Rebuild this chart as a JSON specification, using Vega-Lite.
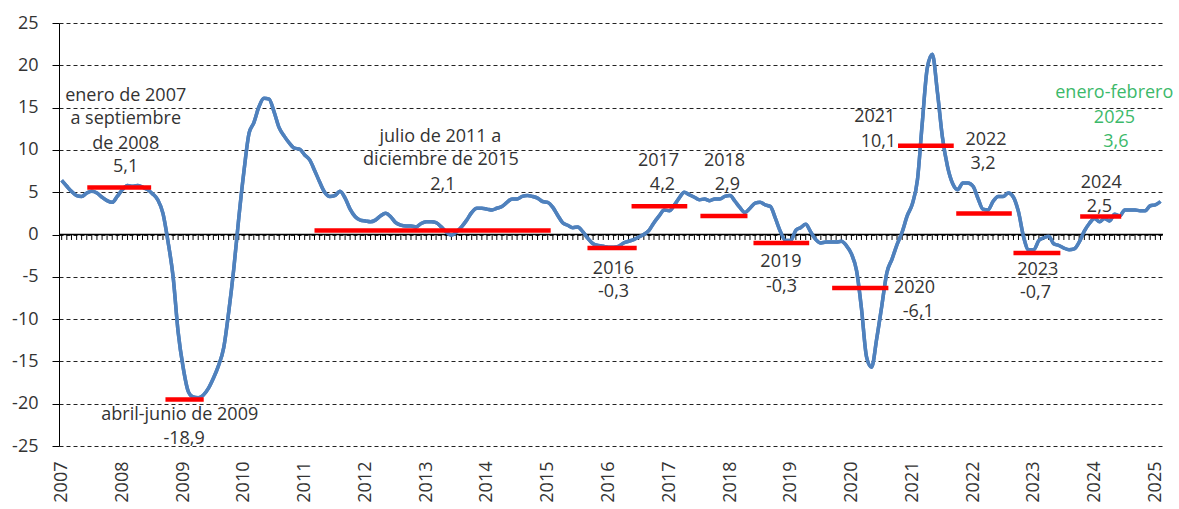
{
  "$schema": "https://vega.github.io/schema/vega-lite/v6.json",
  "width": 1104,
  "height": 423,
  "autosize": {"type": "none"},
  "padding": {"left": 59, "top": 23, "right": 16, "bottom": 63},
  "background": "white",
  "config": {"view": {"stroke": null}, "font": "Open Sans"},
  "datasets": {
    "serie": [
      {"fecha":"2007-01-01","v":6.4},{"fecha":"2007-02-01","v":5.7},{"fecha":"2007-03-01","v":5.1},{"fecha":"2007-04-01","v":4.6},{"fecha":"2007-05-01","v":4.5},{"fecha":"2007-06-01","v":4.9},{"fecha":"2007-07-01","v":5.1},{"fecha":"2007-08-01","v":4.9},{"fecha":"2007-09-01","v":4.4},{"fecha":"2007-10-01","v":4.0},{"fecha":"2007-11-01","v":3.8},{"fecha":"2007-12-01","v":4.5},
      {"fecha":"2008-01-01","v":5.3},{"fecha":"2008-02-01","v":5.8},{"fecha":"2008-03-01","v":5.7},{"fecha":"2008-04-01","v":5.8},{"fecha":"2008-05-01","v":5.6},{"fecha":"2008-06-01","v":5.3},{"fecha":"2008-07-01","v":4.8},{"fecha":"2008-08-01","v":4.1},{"fecha":"2008-09-01","v":2.5},{"fecha":"2008-10-01","v":-0.8},{"fecha":"2008-11-01","v":-5.0},{"fecha":"2008-12-01","v":-11.5},
      {"fecha":"2009-01-01","v":-15.8},{"fecha":"2009-02-01","v":-18.6},{"fecha":"2009-03-01","v":-19.2},{"fecha":"2009-04-01","v":-19.3},{"fecha":"2009-05-01","v":-19.0},{"fecha":"2009-06-01","v":-18.2},{"fecha":"2009-07-01","v":-17.0},{"fecha":"2009-08-01","v":-15.5},{"fecha":"2009-09-01","v":-13.4},{"fecha":"2009-10-01","v":-9.2},{"fecha":"2009-11-01","v":-4.0},{"fecha":"2009-12-01","v":2.0},
      {"fecha":"2010-01-01","v":7.5},{"fecha":"2010-02-01","v":12.0},{"fecha":"2010-03-01","v":13.2},{"fecha":"2010-04-01","v":15.1},{"fecha":"2010-05-01","v":16.1},{"fecha":"2010-06-01","v":16.0},{"fecha":"2010-07-01","v":14.5},{"fecha":"2010-08-01","v":12.6},{"fecha":"2010-09-01","v":11.6},{"fecha":"2010-10-01","v":10.8},{"fecha":"2010-11-01","v":10.2},{"fecha":"2010-12-01","v":10.1},
      {"fecha":"2011-01-01","v":9.4},{"fecha":"2011-02-01","v":8.8},{"fecha":"2011-03-01","v":7.6},{"fecha":"2011-04-01","v":6.2},{"fecha":"2011-05-01","v":5.0},{"fecha":"2011-06-01","v":4.5},{"fecha":"2011-07-01","v":4.6},{"fecha":"2011-08-01","v":5.1},{"fecha":"2011-09-01","v":4.3},{"fecha":"2011-10-01","v":3.0},{"fecha":"2011-11-01","v":2.1},{"fecha":"2011-12-01","v":1.7},
      {"fecha":"2012-01-01","v":1.6},{"fecha":"2012-02-01","v":1.5},{"fecha":"2012-03-01","v":1.7},{"fecha":"2012-04-01","v":2.2},{"fecha":"2012-05-01","v":2.5},{"fecha":"2012-06-01","v":2.1},{"fecha":"2012-07-01","v":1.4},{"fecha":"2012-08-01","v":1.1},{"fecha":"2012-09-01","v":1.0},{"fecha":"2012-10-01","v":1.0},{"fecha":"2012-11-01","v":0.9},{"fecha":"2012-12-01","v":1.3},
      {"fecha":"2013-01-01","v":1.5},{"fecha":"2013-02-01","v":1.5},{"fecha":"2013-03-01","v":1.4},{"fecha":"2013-04-01","v":0.9},{"fecha":"2013-05-01","v":0.3},{"fecha":"2013-06-01","v":-0.1},{"fecha":"2013-07-01","v":0.3},{"fecha":"2013-08-01","v":0.9},{"fecha":"2013-09-01","v":1.7},{"fecha":"2013-10-01","v":2.6},{"fecha":"2013-11-01","v":3.1},{"fecha":"2013-12-01","v":3.1},
      {"fecha":"2014-01-01","v":3.0},{"fecha":"2014-02-01","v":2.9},{"fecha":"2014-03-01","v":3.1},{"fecha":"2014-04-01","v":3.3},{"fecha":"2014-05-01","v":3.8},{"fecha":"2014-06-01","v":4.2},{"fecha":"2014-07-01","v":4.2},{"fecha":"2014-08-01","v":4.5},{"fecha":"2014-09-01","v":4.6},{"fecha":"2014-10-01","v":4.5},{"fecha":"2014-11-01","v":4.3},{"fecha":"2014-12-01","v":3.9},
      {"fecha":"2015-01-01","v":3.8},{"fecha":"2015-02-01","v":3.2},{"fecha":"2015-03-01","v":2.3},{"fecha":"2015-04-01","v":1.4},{"fecha":"2015-05-01","v":1.1},{"fecha":"2015-06-01","v":0.8},{"fecha":"2015-07-01","v":0.9},{"fecha":"2015-08-01","v":0.3},{"fecha":"2015-09-01","v":-0.5},{"fecha":"2015-10-01","v":-1.1},{"fecha":"2015-11-01","v":-1.3},{"fecha":"2015-12-01","v":-1.4},
      {"fecha":"2016-01-01","v":-1.5},{"fecha":"2016-02-01","v":-1.5},{"fecha":"2016-03-01","v":-1.4},{"fecha":"2016-04-01","v":-1.0},{"fecha":"2016-05-01","v":-0.8},{"fecha":"2016-06-01","v":-0.6},{"fecha":"2016-07-01","v":-0.3},{"fecha":"2016-08-01","v":0.0},{"fecha":"2016-09-01","v":0.5},{"fecha":"2016-10-01","v":1.4},{"fecha":"2016-11-01","v":2.2},{"fecha":"2016-12-01","v":2.9},
      {"fecha":"2017-01-01","v":2.8},{"fecha":"2017-02-01","v":3.5},{"fecha":"2017-03-01","v":4.3},{"fecha":"2017-04-01","v":5.0},{"fecha":"2017-05-01","v":4.7},{"fecha":"2017-06-01","v":4.4},{"fecha":"2017-07-01","v":4.1},{"fecha":"2017-08-01","v":4.2},{"fecha":"2017-09-01","v":4.0},{"fecha":"2017-10-01","v":4.2},{"fecha":"2017-11-01","v":4.2},{"fecha":"2017-12-01","v":4.5},
      {"fecha":"2018-01-01","v":4.6},{"fecha":"2018-02-01","v":3.9},{"fecha":"2018-03-01","v":3.2},{"fecha":"2018-04-01","v":2.6},{"fecha":"2018-05-01","v":3.1},{"fecha":"2018-06-01","v":3.7},{"fecha":"2018-07-01","v":3.8},{"fecha":"2018-08-01","v":3.5},{"fecha":"2018-09-01","v":3.3},{"fecha":"2018-10-01","v":1.9},{"fecha":"2018-11-01","v":0.3},{"fecha":"2018-12-01","v":-0.7},
      {"fecha":"2019-01-01","v":-0.7},{"fecha":"2019-02-01","v":0.5},{"fecha":"2019-03-01","v":0.8},{"fecha":"2019-04-01","v":1.2},{"fecha":"2019-05-01","v":0.3},{"fecha":"2019-06-01","v":-0.6},{"fecha":"2019-07-01","v":-1.0},{"fecha":"2019-08-01","v":-0.9},{"fecha":"2019-09-01","v":-0.9},{"fecha":"2019-10-01","v":-0.9},{"fecha":"2019-11-01","v":-0.8},{"fecha":"2019-12-01","v":-1.3},
      {"fecha":"2020-01-01","v":-2.3},{"fecha":"2020-02-01","v":-4.3},{"fecha":"2020-03-01","v":-8.7},{"fecha":"2020-04-01","v":-14.5},{"fecha":"2020-05-01","v":-15.7},{"fecha":"2020-06-01","v":-12.3},{"fecha":"2020-07-01","v":-8.5},{"fecha":"2020-08-01","v":-4.5},{"fecha":"2020-09-01","v":-2.9},{"fecha":"2020-10-01","v":-1.2},{"fecha":"2020-11-01","v":0.3},{"fecha":"2020-12-01","v":2.2},
      {"fecha":"2021-01-01","v":3.6},{"fecha":"2021-02-01","v":6.5},{"fecha":"2021-03-01","v":13.0},{"fecha":"2021-04-01","v":19.7},{"fecha":"2021-05-01","v":21.3},{"fecha":"2021-06-01","v":16.8},{"fecha":"2021-07-01","v":11.5},{"fecha":"2021-08-01","v":8.0},{"fecha":"2021-09-01","v":6.0},{"fecha":"2021-10-01","v":5.3},{"fecha":"2021-11-01","v":6.1},{"fecha":"2021-12-01","v":6.1},
      {"fecha":"2022-01-01","v":5.7},{"fecha":"2022-02-01","v":4.2},{"fecha":"2022-03-01","v":3.0},{"fecha":"2022-04-01","v":2.9},{"fecha":"2022-05-01","v":3.9},{"fecha":"2022-06-01","v":4.5},{"fecha":"2022-07-01","v":4.5},{"fecha":"2022-08-01","v":4.9},{"fecha":"2022-09-01","v":4.4},{"fecha":"2022-10-01","v":2.7},{"fecha":"2022-11-01","v":-0.3},{"fecha":"2022-12-01","v":-1.8},
      {"fecha":"2023-01-01","v":-1.8},{"fecha":"2023-02-01","v":-0.7},{"fecha":"2023-03-01","v":-0.4},{"fecha":"2023-04-01","v":-0.2},{"fecha":"2023-05-01","v":-1.1},{"fecha":"2023-06-01","v":-1.3},{"fecha":"2023-07-01","v":-1.6},{"fecha":"2023-08-01","v":-1.8},{"fecha":"2023-09-01","v":-1.7},{"fecha":"2023-10-01","v":-0.9},{"fecha":"2023-11-01","v":0.4},{"fecha":"2023-12-01","v":1.3},
      {"fecha":"2024-01-01","v":1.9},{"fecha":"2024-02-01","v":1.5},{"fecha":"2024-03-01","v":1.9},{"fecha":"2024-04-01","v":1.6},{"fecha":"2024-05-01","v":2.4},{"fecha":"2024-06-01","v":2.2},{"fecha":"2024-07-01","v":2.9},{"fecha":"2024-08-01","v":2.9},{"fecha":"2024-09-01","v":2.9},{"fecha":"2024-10-01","v":2.8},{"fecha":"2024-11-01","v":2.8},{"fecha":"2024-12-01","v":3.4},
      {"fecha":"2025-01-01","v":3.5},{"fecha":"2025-02-01","v":3.9}
    ],
    "medias": [
      {"periodo":"ene 2007-sep 2008","inicio":"2007-06-04","fin":"2008-06-22","v":5.57},
      {"periodo":"abr-jun 2009","inicio":"2008-09-16","fin":"2009-05-04","v":-19.5},
      {"periodo":"jul 2011-dic 2015","inicio":"2011-03-01","fin":"2015-01-19","v":0.47},
      {"periodo":"2016","inicio":"2015-08-28","fin":"2016-06-19","v":-1.59},
      {"periodo":"2017","inicio":"2016-05-19","fin":"2017-04-19","v":3.35},
      {"periodo":"2018","inicio":"2017-07-07","fin":"2018-04-16","v":2.2},
      {"periodo":"2019","inicio":"2018-05-22","fin":"2019-04-22","v":-1.0},
      {"periodo":"2020","inicio":"2019-09-07","fin":"2020-08-10","v":-6.33},
      {"periodo":"2021","inicio":"2020-10-07","fin":"2021-09-07","v":10.5},
      {"periodo":"2022","inicio":"2021-09-22","fin":"2022-08-22","v":2.49},
      {"periodo":"2023","inicio":"2022-09-01","fin":"2023-06-10","v":-2.2},
      {"periodo":"2024","inicio":"2023-10-07","fin":"2024-06-10","v":2.13}
    ],
    "notas": [
      {"texto":"enero de 2007","fecha":"2008-01-21","v":16.4,"grupo":"historico"},
      {"texto":"a septiembre","fecha":"2008-01-21","v":13.66,"grupo":"historico"},
      {"texto":"de 2008","fecha":"2008-01-21","v":10.7,"grupo":"historico"},
      {"texto":"5,1","fecha":"2008-01-21","v":7.97,"grupo":"historico"},
      {"texto":"abril-junio de 2009","fecha":"2008-12-11","v":-21.3,"grupo":"historico"},
      {"texto":"-18,9","fecha":"2009-01-06","v":-24.2,"grupo":"historico"},
      {"texto":"julio de 2011 a","fecha":"2013-03-27","v":11.56,"grupo":"historico"},
      {"texto":"diciembre de 2015","fecha":"2013-03-30","v":8.8,"grupo":"historico"},
      {"texto":"2,1","fecha":"2013-04-11","v":5.84,"grupo":"historico"},
      {"texto":"2016","fecha":"2016-01-31","v":-4.03,"grupo":"historico"},
      {"texto":"-0,3","fecha":"2016-02-01","v":-6.8,"grupo":"historico"},
      {"texto":"2017","fecha":"2016-10-28","v":8.68,"grupo":"historico"},
      {"texto":"4,2","fecha":"2016-11-21","v":5.84,"grupo":"historico"},
      {"texto":"2018","fecha":"2017-11-29","v":8.68,"grupo":"historico"},
      {"texto":"2,9","fecha":"2017-12-16","v":5.84,"grupo":"historico"},
      {"texto":"2019","fecha":"2018-11-03","v":-3.25,"grupo":"historico"},
      {"texto":"-0,3","fecha":"2018-11-06","v":-6.2,"grupo":"historico"},
      {"texto":"2020","fecha":"2021-01-14","v":-6.33,"grupo":"historico"},
      {"texto":"-6,1","fecha":"2021-02-06","v":-9.17,"grupo":"historico"},
      {"texto":"2021","fecha":"2020-05-20","v":13.86,"grupo":"historico"},
      {"texto":"10,1","fecha":"2020-06-11","v":10.97,"grupo":"historico"},
      {"texto":"2022","fecha":"2022-03-20","v":11.17,"grupo":"historico"},
      {"texto":"3,2","fecha":"2022-03-02","v":8.29,"grupo":"historico"},
      {"texto":"2023","fecha":"2023-01-25","v":-4.15,"grupo":"historico"},
      {"texto":"-0,7","fecha":"2023-01-11","v":-6.92,"grupo":"historico"},
      {"texto":"2024","fecha":"2024-02-11","v":6.04,"grupo":"historico"},
      {"texto":"2,5","fecha":"2024-01-31","v":3.27,"grupo":"historico"},
      {"texto":"enero-febrero","fecha":"2024-04-29","v":16.7,"grupo":"actual"},
      {"texto":"2025","fecha":"2024-04-30","v":13.74,"grupo":"actual"},
      {"texto":"3,6","fecha":"2024-05-09","v":10.97,"grupo":"actual"}
    ]
  },
  "layer": [
    {
      "data": {"name": "serie"},
      "mark": {"type": "line", "color": "#4F81BD", "strokeWidth": 3.5, "interpolate": "monotone"},
      "encoding": {
        "x": {
          "field": "fecha", "type": "temporal", "title": null,
          "scale": {"type": "utc", "domain": [{"year": 2006, "month": 12, "date": 16, "utc": true}, {"year": 2025, "month": 2, "date": 16, "utc": true}]},
          "axis": {
            "values": [{"year":2007,"utc":true},{"year":2008,"utc":true},{"year":2009,"utc":true},{"year":2010,"utc":true},{"year":2011,"utc":true},{"year":2012,"utc":true},{"year":2013,"utc":true},{"year":2014,"utc":true},{"year":2015,"utc":true},{"year":2016,"utc":true},{"year":2017,"utc":true},{"year":2018,"utc":true},{"year":2019,"utc":true},{"year":2020,"utc":true},{"year":2021,"utc":true},{"year":2022,"utc":true},{"year":2023,"utc":true},{"year":2024,"utc":true},{"year":2025,"utc":true}],
            "format": "%Y", "labelAngle": 270, "ticks": false, "domain": false, "grid": false,
            "labelPadding": 15, "labelFontSize": 18, "labelFont": "Open Sans", "labelColor": "#333333",
            "labelFlush": false, "labelOverlap": false, "title": null
          }
        },
        "y": {
          "field": "v", "type": "quantitative", "title": null,
          "scale": {"domain": [-25, 25], "nice": false},
          "axis": {
            "values": [-25, -20, -15, -10, -5, 0, 5, 10, 15, 20, 25],
            "labelExpr": "'' + datum.value",
            "grid": true, "gridDash": [4, 3], "gridColor": "#222222", "gridWidth": 1,
            "domain": true, "domainColor": "#000000", "domainWidth": 1,
            "ticks": true, "tickColor": "#000000", "tickSize": 7, "tickWidth": 1,
            "labelPadding": 14, "labelFontSize": 18, "labelFont": "Open Sans", "labelColor": "#333333",
            "title": null
          }
        }
      }
    },
    {
      "data": {"name": "serie"},
      "mark": {"type": "rule", "color": "#000000", "strokeWidth": 1},
      "encoding": {
        "x": {"field": "fecha", "type": "temporal", "title": null},
        "y": {"datum": 0, "type": "quantitative", "title": null},
        "y2": {"datum": -0.65}
      }
    },
    {
      "data": {"values": [{"nivel": 0}]},
      "mark": {"type": "rule", "color": "#000000", "strokeWidth": 1.6},
      "encoding": {
        "y": {"field": "nivel", "type": "quantitative", "title": null}
      }
    },
    {
      "data": {"name": "serie"},
      "mark": {"type": "line", "color": "#4F81BD", "strokeWidth": 3.5, "interpolate": "monotone"},
      "encoding": {
        "x": {"field": "fecha", "type": "temporal", "title": null},
        "y": {"field": "v", "type": "quantitative", "title": null}
      }
    },
    {
      "data": {"name": "medias"},
      "mark": {"type": "rule", "color": "#FF0000", "strokeWidth": 4.5},
      "encoding": {
        "x": {"field": "inicio", "type": "temporal", "title": null},
        "x2": {"field": "fin"},
        "y": {"field": "v", "type": "quantitative", "title": null}
      }
    },
    {
      "data": {"name": "notas"},
      "mark": {"type": "text", "fontSize": 18, "font": "Open Sans", "align": "center", "baseline": "middle"},
      "encoding": {
        "x": {"field": "fecha", "type": "temporal", "title": null},
        "y": {"field": "v", "type": "quantitative", "title": null},
        "text": {"field": "texto"},
        "color": {"field": "grupo", "type": "nominal", "scale": {"domain": ["historico", "actual"], "range": ["#333333", "#3CB96A"]}, "legend": null}
      }
    }
  ]
}
